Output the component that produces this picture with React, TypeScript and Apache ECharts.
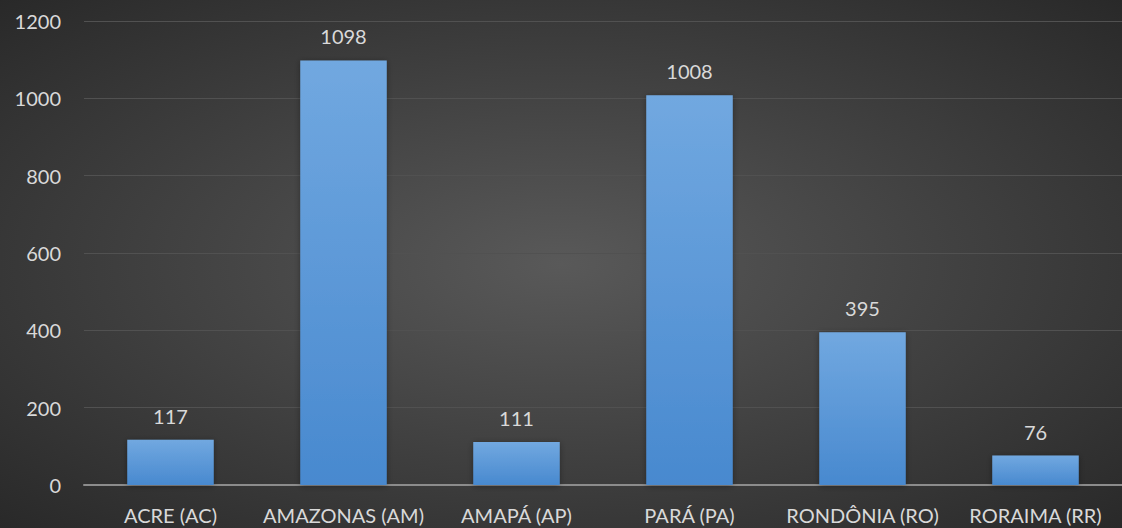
import React, { useEffect, useRef } from "react";
import * as echarts from "echarts";

const categories = ["ACRE (AC)", "AMAZONAS (AM)", "AMAPÁ (AP)", "PARÁ (PA)", "RONDÔNIA (RO)", "RORAIMA (RR)"];
const values = [117, 1098, 111, 1008, 395, 76];
const yMin = 0;
const yMax = 1200;
const yInterval = 200;

export default function App() {
  const ref = useRef<HTMLDivElement>(null);
  useEffect(() => {
    document.body.style.margin = "0";
    const chart = echarts.init(ref.current!, null, { renderer: "svg" });
    const font = "Lato, 'Open Sans', sans-serif";
    chart.setOption({
      animation: false,
      backgroundColor: new echarts.graphic.RadialGradient(0.5, 0.5, 0.75, [
        { offset: 0, color: "#595959" },
        { offset: 1, color: "#262626" },
      ]),
      grid: { left: 84, right: 0, top: 21, bottom: 43, containLabel: false },
      xAxis: {
        type: "category",
        data: categories,
        axisLine: { lineStyle: { color: "#8c8c8c", width: 2 } },
        axisTick: { show: false },
        axisLabel: { color: "#d9d9d9", fontSize: 20, fontFamily: font, margin: 20, interval: 0 },
      },
      yAxis: {
        type: "value",
        min: yMin,
        max: yMax,
        interval: yInterval,
        axisLine: { show: false },
        axisTick: { show: false },
        axisLabel: {
          color: "#d9d9d9",
          fontSize: 20,
          fontFamily: font,
          margin: 23,
          formatter: (v: number) => String(v),
        },
        splitLine: { lineStyle: { color: "#515151", width: 1 } },
      },
      series: [
        {
          type: "bar",
          data: values,
          barWidth: "50%",
          itemStyle: {
            color: new echarts.graphic.LinearGradient(0, 0, 0, 1, [
              { offset: 0, color: "#71a8e0" },
              { offset: 1, color: "#4889cf" },
            ]),
            shadowColor: "rgba(0,0,0,0.35)",
            shadowBlur: 6,
            shadowOffsetY: 1,
          },
          label: {
            show: true,
            position: "top",
            distance: 14,
            color: "#d9d9d9",
            fontSize: 20,
            fontFamily: font,
          },
        },
      ],
    });
    return () => chart.dispose();
  }, []);
  return <div ref={ref} style={{ width: 1122, height: 528 }} />;
}
